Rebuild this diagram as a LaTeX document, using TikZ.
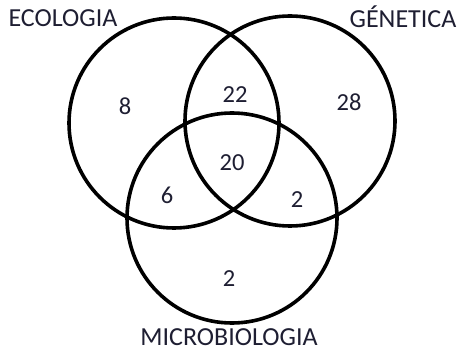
\documentclass[tikz,border=0pt]{standalone}
\usepackage{fontspec}
\setmainfont{Carlito}
\definecolor{txt}{RGB}{30,30,50}
\begin{document}
\begin{tikzpicture}[x=1pt,y=-1pt,
  set/.style={circle,draw=black,line width=3.6pt,minimum size=210pt,inner sep=0pt},
  lbl/.style={text=txt,font=\fontsize{26}{28}\selectfont,inner sep=0pt,anchor=base},
  num/.style={text=txt,font=\fontsize{24.5}{27}\selectfont,inner sep=0pt,anchor=base}]
\useasboundingbox (0,0) rectangle (457,352);
\node[set] (eco) at (174,123) {};
\node[set] (gen) at (290,121) {};
\node[set] (mic) at (232,218) {};
\node[lbl] (leco) at (63,27) {ECOLOGIA};
\node[lbl] (lgen) at (403,28) {GÉNETICA};
\node[lbl] (lmic) at (229,345) {MICROBIOLOGIA};
\node[num] (n8) at (125,115) {8};
\node[num] (n22) at (235,103) {22};
\node[num] (n28) at (349,111) {28};
\node[num] (n20) at (232,171) {20};
\node[num] (n6) at (167,204) {6};
\node[num] (n2a) at (297,208) {2};
\node[num] (n2b) at (229,286) {2};
\end{tikzpicture}
\end{document}
